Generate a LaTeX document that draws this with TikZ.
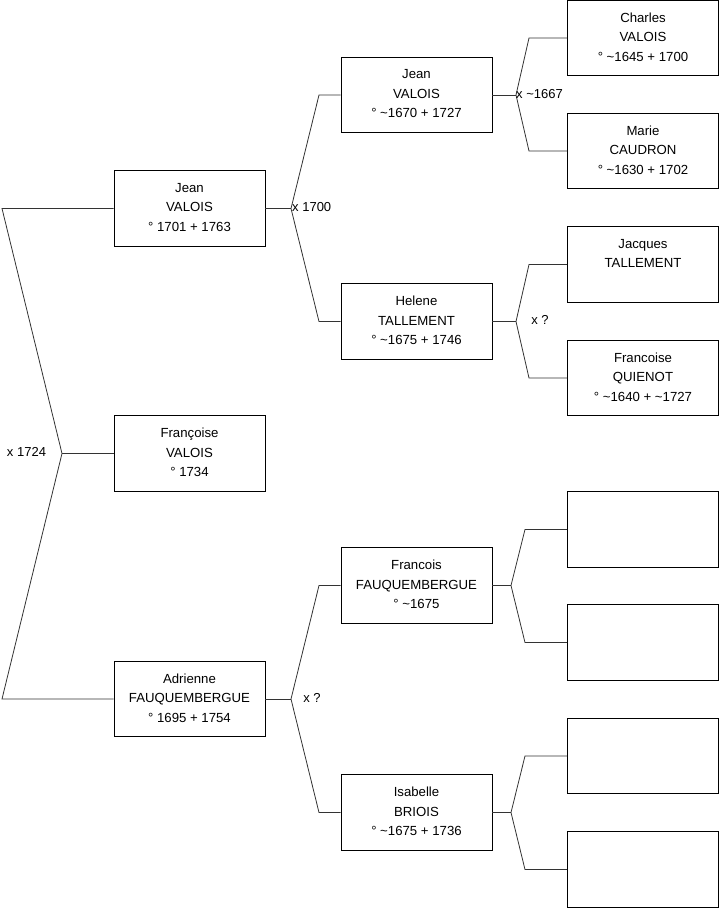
\documentclass[tikz,border=0pt]{standalone}
\usepackage{fontspec}
\setmainfont{Liberation Sans}
\usetikzlibrary{calc}
\begin{document}
\begin{tikzpicture}[x=1pt,y=-1pt,
  person/.style={draw=black,line width=0.8pt,minimum width=151pt,minimum height=75.5pt,
    inner sep=0pt,align=center,text depth=2.5pt,font=\fontsize{13.2}{19.5}\selectfont},
  link/.style={draw=black!80,line width=0.8pt},
  lab/.style={font=\fontsize{13}{15}\selectfont,inner sep=0pt}]
\useasboundingbox (0,0) rectangle (719,908);
% level 1
\node[person] (p1) at (189.5,208.5) {Jean\\VALOIS\\° 1701 + 1763};
\node[person] (p2) at (189.5,453.5) {Françoise\\VALOIS\\° 1734};
\node[person] (p3) at (189.5,699) {Adrienne\\FAUQUEMBERGUE\\° 1695 + 1754};
% level 2
\node[person] (g1) at (416.5,95) {Jean\\VALOIS\\° \textasciitilde1670 + 1727};
\node[person] (g2) at (416.5,321.5) {Helene\\TALLEMENT\\° \textasciitilde1675 + 1746};
\node[person] (g3) at (416.5,585.5) {Francois\\FAUQUEMBERGUE\\° \textasciitilde1675};
\node[person] (g4) at (416.5,812.5) {Isabelle\\BRIOIS\\° \textasciitilde1675 + 1736};
% level 3
\node[person] (h1) at (643,38) {Charles\\VALOIS\\° \textasciitilde1645 + 1700};
\node[person] (h2) at (643,151) {Marie\\CAUDRON\\° \textasciitilde1630 + 1702};
\node[person] (h3) at (643,264.5) {Jacques\\TALLEMENT\\\mbox{}};
\node[person] (h4) at (643,378) {Francoise\\QUIENOT\\° \textasciitilde1640 + \textasciitilde1727};
\node[person] (h5) at (643,529.5) {};
\node[person] (h6) at (643,642.5) {};
\node[person] (h7) at (643,756) {};
\node[person] (h8) at (643,869.5) {};
% junctions
\coordinate (r1) at (2,208.5);
\coordinate (r2) at (2,699);
\coordinate (j0) at (62,453.5);
\coordinate (j1) at (291,208.5);
\coordinate (a1) at (319,95);
\coordinate (a2) at (319,321.5);
\coordinate (j2) at (291,699);
\coordinate (a3) at (319,585.5);
\coordinate (a4) at (319,812.5);
\coordinate (j3) at (516,95);
\coordinate (b1) at (529,38);
\coordinate (b2) at (529,151);
\coordinate (j4) at (516,321.5);
\coordinate (b3) at (529,264.5);
\coordinate (b4) at (529,378);
\coordinate (j5) at (511,585.5);
\coordinate (b5) at (525,529.5);
\coordinate (b6) at (525,642.5);
\coordinate (j6) at (511,812.5);
\coordinate (b7) at (525,756);
\coordinate (b8) at (525,869.5);
% connectors
\draw[link] (p1.west) -- (r1) -- (j0) -- (r2) -- (p3.west);
\draw[link] (j0) -- (p2.west);
\draw[link] (p1.east) -- (j1);
\draw[link] (g1.west) -- (a1) -- (j1) -- (a2) -- (g2.west);
\draw[link] (p3.east) -- (j2);
\draw[link] (g3.west) -- (a3) -- (j2) -- (a4) -- (g4.west);
\draw[link] (g1.east) -- (j3);
\draw[link] (h1.west) -- (b1) -- (j3) -- (b2) -- (h2.west);
\draw[link] (g2.east) -- (j4);
\draw[link] (h3.west) -- (b3) -- (j4) -- (b4) -- (h4.west);
\draw[link] (g3.east) -- (j5);
\draw[link] (h5.west) -- (b5) -- (j5) -- (b6) -- (h6.west);
\draw[link] (g4.east) -- (j6);
\draw[link] (h7.west) -- (b7) -- (j6) -- (b8) -- (h8.west);
% labels
\node[lab] (l0) at (26.5,452) {x 1724};
\node[lab,anchor=west] (l1) at (292,207.5) {x 1700};
\node[lab,anchor=west] (l2) at (516,94) {x \textasciitilde1667};
\node[lab] (l3) at (540,320) {x ?};
\node[lab] (l4) at (312,698) {x ?};
\end{tikzpicture}
\end{document}
